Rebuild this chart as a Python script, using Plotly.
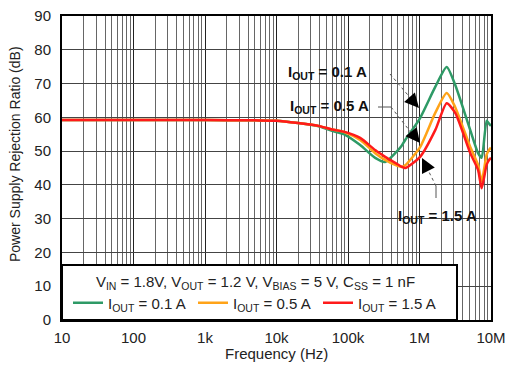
import plotly.graph_objects as go

# ---- data ----
freq_hz = [10, 100, 1000, 5000, 10000, 20000, 40000, 60000, 90000, 148000, 240000,
           331000, 457000, 560000, 631000, 1020000, 1660000, 2400000, 3160000,
           5130000, 6600000, 7400000, 8700000, 9500000, 10000000]
psrr_01 = [59.2, 59.2, 59.2, 59.1, 59.0, 58.3, 57.3, 56.0, 54.9, 51.8, 48.0,
           46.8, 49.4, 51.5, 53.3, 59.8, 69.0, 74.9, 69.6,
           56.2, 49.4, 48.0, 59.0, 58.0, 57.5]
psrr_05 = [59.2, 59.2, 59.2, 59.1, 59.0, 58.3, 57.4, 56.4, 55.6, 53.3, 49.4,
           47.4, 45.9, 45.3, 45.8, 51.2, 61.3, 67.2, 63.0,
           51.2, 45.9, 41.0, 49.0, 50.5, 51.0]
psrr_15 = [59.2, 59.2, 59.2, 59.1, 59.0, 58.3, 57.4, 56.4, 55.7, 53.9, 50.3,
           48.3, 46.5, 45.4, 45.0, 48.3, 56.2, 64.2, 61.3,
           49.4, 44.4, 39.0, 46.0, 47.5, 48.0]
series_names = ["I<sub>OUT</sub> = 0.1 A", "I<sub>OUT</sub> = 0.5 A", "I<sub>OUT</sub> = 1.5 A"]
series_colors = ["#2e9a66", "#ffa318", "#ff1a1a"]
x_tickvals = [10, 100, 1000, 10000, 100000, 1000000, 10000000]
x_ticktext = ["10", "100", "1k", "10k", "100k", "1M", "10M"]
y_tickvals = list(range(0, 91, 10))
legend_title = ("V<sub>IN</sub> = 1.8V, V<sub>OUT</sub> = 1.2 V, "
                "V<sub>BIAS</sub> = 5 V, C<sub>SS</sub> = 1 nF")
x_title = "Frequency (Hz)"
y_title = "Power Supply Rejection Ratio (dB)"

W, H = 507, 365
L, R, T, B = 62, 16, 16, 45
PW, PH = W - L - R, H - T - B


def px(x):
    return (x - L) / PW


def py(y):
    return (H - B - y) / PH


FONT = "Liberation Sans, Arial, sans-serif"

fig = go.Figure()
for vals, name, col in zip([psrr_01, psrr_05, psrr_15], series_names, series_colors):
    fig.add_trace(go.Scatter(x=freq_hz, y=vals, mode="lines", name=name,
                             line=dict(color=col, width=2.5, shape="spline", smoothing=0.6)))

fig.update_layout(
    width=W, height=H,
    margin=dict(l=L, r=R, t=T, b=B, autoexpand=False),
    paper_bgcolor="white", plot_bgcolor="white",
    font=dict(family=FONT, size=15, color="#222"),
    xaxis=dict(type="log", range=[1, 7], tickvals=x_tickvals, ticktext=x_ticktext,
               automargin=False,
               showline=True, mirror=True, linecolor="black", linewidth=2,
               showgrid=True, gridcolor="#222", gridwidth=1,
               minor=dict(showgrid=True, gridcolor="#666", gridwidth=1, dtick="D1"),
               ticks="", tickfont=dict(size=15), ticklabelstandoff=3),
    yaxis=dict(range=[0, 90], tickvals=y_tickvals, automargin=False,
               showline=True, mirror=True, linecolor="black", linewidth=2,
               showgrid=True, gridcolor="#444", gridwidth=1, zeroline=False,
               ticks="", tickfont=dict(size=15), ticklabelstandoff=6),
    legend=dict(orientation="h", x=px(68), y=py(267), xanchor="left", yanchor="top",
                bgcolor="rgba(0,0,0,0)", borderwidth=0,
                entrywidth=80, font=dict(size=15),
                title=dict(text=legend_title, side="top center", font=dict(size=15)),
                tracegroupgap=0, itemwidth=30),
)

# legend box
fig.add_shape(type="rect", xref="paper", yref="paper", x0=px(62), y0=py(320),
              x1=px(457), y1=py(265), fillcolor="white",
              line=dict(color="black", width=2), layer="above")

# axis titles
fig.add_annotation(text=x_title, xref="paper", yref="paper", x=px(276), y=py(353),
                   xanchor="center", yanchor="middle",
                   showarrow=False, font=dict(size=15, color="#222"))
fig.add_annotation(text=y_title, xref="paper", yref="paper", x=px(15), y=py(154),
                   xanchor="center", yanchor="middle",
                   showarrow=False, textangle=-90, font=dict(size=14, color="#222"))

# callout texts
for txt, cx, cy in [("I<sub>OUT</sub> = 0.1 A", 327, 72),
                    ("I<sub>OUT</sub> = 0.5 A", 329, 107),
                    ("I<sub>OUT</sub> = 1.5 A", 437, 217)]:
    fig.add_annotation(text="<b>" + txt + "</b>", xref="paper", yref="paper",
                       x=px(cx), y=py(cy), xanchor="center", yanchor="middle",
                       showarrow=False, font=dict(size=15, color="#111", family=FONT))

# leader lines
dash_lines = [((390, 74), (413, 101)), ((391, 107), (413, 135)), ((436, 186), (427, 168))]
solid_lines = [((378, 107), (391, 107)), ((436, 186), (436, 198))]
for (a, b) in dash_lines:
    fig.add_shape(type="line", xref="paper", yref="paper", x0=px(a[0]), y0=py(a[1]),
                  x1=px(b[0]), y1=py(b[1]), line=dict(color="#555", width=1, dash="dot"))
for (a, b) in solid_lines:
    fig.add_shape(type="line", xref="paper", yref="paper", x0=px(a[0]), y0=py(a[1]),
                  x1=px(b[0]), y1=py(b[1]), line=dict(color="#555", width=1))

# arrowheads
for tip, ax, ay in [((419, 108), -8, -9), ((420, 143), -8, -10), ((422, 158), 5, 10)]:
    fig.add_annotation(text="", xref="paper", yref="paper", x=px(tip[0]), y=py(tip[1]),
                       showarrow=True, axref="pixel", ayref="pixel", ax=ax, ay=ay,
                       arrowhead=2, arrowsize=2.2, arrowwidth=1.3, arrowcolor="black")

fig.write_html("out.html", config={"displayModeBar": False},
               post_script="document.body.style.margin='0';")
